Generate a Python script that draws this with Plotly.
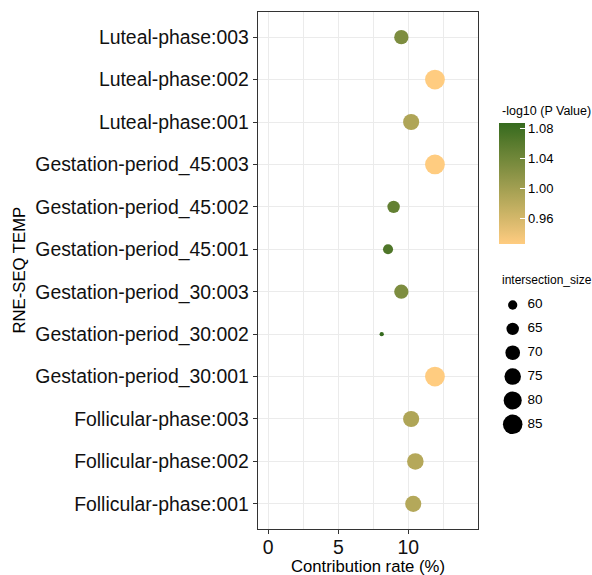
import numpy as np
import plotly.graph_objects as go

# ---------------- data (top to bottom as displayed) ----------------
categories = [
    "Luteal-phase:003", "Luteal-phase:002", "Luteal-phase:001",
    "Gestation-period_45:003", "Gestation-period_45:002", "Gestation-period_45:001",
    "Gestation-period_30:003", "Gestation-period_30:002", "Gestation-period_30:001",
    "Follicular-phase:003", "Follicular-phase:002", "Follicular-phase:001",
]
contribution_rate = [9.5, 11.9, 10.2, 11.9, 8.95, 8.55, 9.5, 8.1, 11.9, 10.2, 10.5, 10.35]
neg_log10_p = [1.03, 0.926, 0.99, 0.926, 1.052, 1.068, 1.03, 1.0875, 0.926, 0.99, 0.985, 0.986]
intersection_size = [69, 86, 74, 86, 65, 61, 69, 57, 86, 74, 75, 74]

size_legend_values = [60, 65, 70, 75, 80, 85]
color_ticks = [0.96, 1.00, 1.04, 1.08]

# ---------------- styling helpers ----------------
W, H = 592, 575
FONT = "Arial, Liberation Sans, sans-serif"
LOW, HIGH = "#FFCC80", "#356A1E"


def _hex2rgb(h):
    h = h.lstrip("#")
    return np.array([int(h[i:i + 2], 16) for i in (0, 2, 4)], float) / 255


def _rgb2lab(c):
    c = np.where(c <= 0.04045, c / 12.92, ((c + 0.055) / 1.055) ** 2.4)
    M = np.array([[0.4124, 0.3576, 0.1805], [0.2126, 0.7152, 0.0722], [0.0193, 0.1192, 0.9505]])
    xyz = M @ c / np.array([0.95047, 1.0, 1.08883])
    f = np.where(xyz > 0.008856, np.cbrt(xyz), 7.787 * xyz + 16 / 116)
    return np.array([116 * f[1] - 16, 500 * (f[0] - f[1]), 200 * (f[1] - f[2])])


def _lab2hex(lab):
    L, a, b = lab
    fy = (L + 16) / 116
    fx = fy + a / 500
    fz = fy - b / 200
    f = np.array([fx, fy, fz])
    xyz = np.where(f ** 3 > 0.008856, f ** 3, (f - 16 / 116) / 7.787) * np.array([0.95047, 1.0, 1.08883])
    Mi = np.array([[3.2406, -1.5372, -0.4986], [-0.9689, 1.8758, 0.0415], [0.0557, -0.2040, 1.0570]])
    c = Mi @ xyz
    c = np.where(c <= 0.0031308, 12.92 * c, 1.055 * np.clip(c, 0, None) ** (1 / 2.4) - 0.055)
    c = np.clip(np.round(c * 255), 0, 255).astype(int)
    return "#%02X%02X%02X" % tuple(c)


la, lb = _rgb2lab(_hex2rgb(LOW)), _rgb2lab(_hex2rgb(HIGH))
colorscale = [[t, _lab2hex(la + (lb - la) * t)] for t in np.linspace(0, 1, 21)]

smin, smax = min(intersection_size), max(intersection_size)


def size_px(v):
    v = np.asarray(v, float)
    return 4.3 + 15.5 * np.sqrt(np.clip((v - smin) / (smax - smin), 0, 1))


# plot area in pixels
px_l, px_r, px_t, px_b = 257.7, 477.7, 11.7, 529.3

fig = go.Figure()

fig.add_trace(go.Scatter(
    x=contribution_rate, y=categories, mode="markers",
    marker=dict(
        size=size_px(intersection_size), sizemode="diameter",
        color=neg_log10_p, colorscale=colorscale, showscale=True,
        line=dict(width=0), opacity=1,
        colorbar=dict(
            x=499.3 / W, xanchor="left", xpad=0,
            y=1 - 183 / H, yanchor="middle", ypad=0,
            len=120.6, lenmode="pixels", thickness=26, thicknessmode="pixels",
            outlinewidth=0,
            tickvals=color_ticks, ticktext=["%.2f" % v for v in color_ticks],
            ticks="inside", ticklen=5, tickcolor="white", tickwidth=1,
            tickfont=dict(family=FONT, size=13, color="#000"),
        ),
    ),
    showlegend=False, hoverinfo="x+y",
))

# size legend drawn on its own hidden axes
fig.add_trace(go.Scatter(
    x=[0.138] * len(size_legend_values), y=size_legend_values, mode="markers",
    marker=dict(size=size_px(size_legend_values), sizemode="diameter", color="#000000",
                line=dict(width=0), opacity=1),
    xaxis="x2", yaxis="y2", showlegend=False, hoverinfo="skip",
))
fig.add_trace(go.Scatter(
    x=[0.30] * len(size_legend_values), y=size_legend_values, mode="text",
    text=[str(v) for v in size_legend_values], textposition="middle right",
    textfont=dict(family=FONT, size=13.5, color="#000"),
    xaxis="x2", yaxis="y2", showlegend=False, hoverinfo="skip",
))

axis_common = dict(
    showline=True, mirror=True, linecolor="#333333", linewidth=1.1,
    ticks="outside", ticklen=4, tickcolor="#333333", tickwidth=1.1,
    showgrid=True, gridcolor="#EBEBEB", gridwidth=1.1, zeroline=False,
    tickfont=dict(family=FONT, size=19.4, color="#111"),
    automargin=False,
)

spy = 4.772
fig.update_layout(
    width=W, height=H,
    margin=dict(l=0, r=0, t=0, b=0, autoexpand=False),
    paper_bgcolor="white", plot_bgcolor="white",
    xaxis=dict(
        domain=[px_l / W, px_r / W], range=[-0.75, 14.95],
        tick0=0, dtick=5, ticklabelstandoff=-4,
        minor=dict(tick0=0, dtick=2.5, showgrid=True, gridcolor="#EBEBEB", gridwidth=0.6, ticks=""),
        **axis_common,
    ),
    yaxis=dict(
        domain=[1 - px_b / H, 1 - px_t / H],
        type="category", categoryorder="array", categoryarray=categories[::-1],
        range=[-0.6, len(categories) - 0.4],
        **axis_common,
    ),
    xaxis2=dict(domain=[500 / W, 1.0], range=[0, 1], visible=False, fixedrange=True),
    yaxis2=dict(domain=[1 - 436 / H, 1 - 293 / H],
                range=[60 + (436 - 305) / spy, 60 - (305 - 293) / spy],
                visible=False, fixedrange=True),
    annotations=[
        dict(text="Contribution rate (%)", x=(px_l + px_r) / 2 / W, y=1 - 566 / H,
             xref="paper", yref="paper", showarrow=False, xanchor="center", yanchor="middle",
             font=dict(family=FONT, size=16.7, color="#000")),
        dict(text="RNE-SEQ TEMP", x=19 / W, y=1 - (px_t + px_b) / 2 / H,
             xref="paper", yref="paper", showarrow=False, textangle=-90,
             xanchor="center", yanchor="middle",
             font=dict(family=FONT, size=16.7, color="#000")),
        dict(text="-log10 (P Value)", x=499.5 / W, y=1 - 110.5 / H,
             xref="paper", yref="paper", showarrow=False, xanchor="left", yanchor="middle",
             font=dict(family=FONT, size=12.5, color="#000")),
        dict(text="intersection_size", x=499.5 / W, y=1 - 280 / H,
             xref="paper", yref="paper", showarrow=False, xanchor="left", yanchor="middle",
             font=dict(family=FONT, size=12, color="#000")),
    ],
)

fig.write_html("out.html")
